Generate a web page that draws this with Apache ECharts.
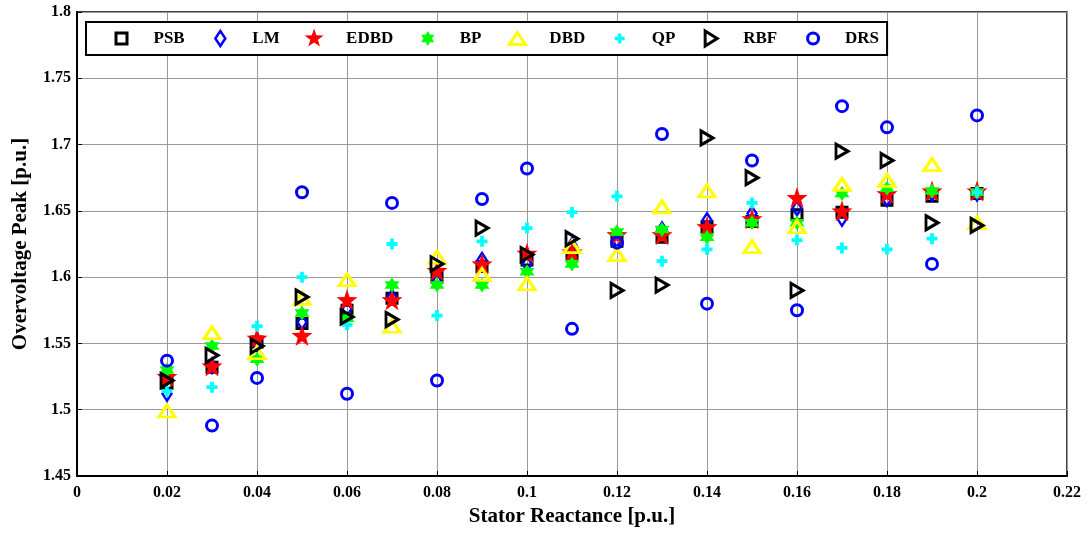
<!DOCTYPE html>
<html>
<head>
<meta charset="utf-8">
<script src="https://cdn.jsdelivr.net/npm/echarts@6/dist/echarts.min.js"></script>
<style>
  html, body { margin: 0; padding: 0; background: #fff; }
  #chart { width: 1088px; height: 533px; }
</style>
</head>
<body>
<div id="chart"></div>
<script>
// Stator reactance values (p.u.)
const reactance = [0.02, 0.03, 0.04, 0.05, 0.06, 0.07, 0.08, 0.09, 0.10, 0.11,
                   0.12, 0.13, 0.14, 0.15, 0.16, 0.17, 0.18, 0.19, 0.20];

// Overvoltage peak (p.u.) predicted by each method
const PSB  = [1.520, 1.532, 1.551, 1.565, 1.575, 1.584, 1.600, 1.608, 1.613, 1.618, 1.627, 1.630, 1.638, 1.642, 1.647, 1.649, 1.658, 1.661, 1.663];
const LM   = [1.512, 1.533, 1.550, 1.566, 1.576, 1.585, 1.597, 1.613, 1.610, 1.624, 1.628, 1.636, 1.643, 1.648, 1.652, 1.644, 1.659, 1.663, 1.663];
const EDBD = [1.525, 1.533, 1.554, 1.556, 1.583, 1.583, 1.605, 1.610, 1.618, 1.619, 1.632, 1.632, 1.638, 1.644, 1.660, 1.650, 1.663, 1.665, 1.665];
const BP   = [1.530, 1.548, 1.538, 1.573, 1.569, 1.594, 1.594, 1.594, 1.604, 1.610, 1.634, 1.636, 1.630, 1.641, 1.641, 1.663, 1.667, 1.665, 1.664];
const DBD  = [1.499, 1.558, 1.543, 1.584, 1.598, 1.563, 1.615, 1.602, 1.595, 1.623, 1.617, 1.653, 1.665, 1.623, 1.638, 1.670, 1.673, 1.685, 1.641];
const QP   = [1.514, 1.517, 1.563, 1.600, 1.564, 1.625, 1.571, 1.627, 1.637, 1.649, 1.661, 1.612, 1.621, 1.656, 1.628, 1.622, 1.621, 1.629, 1.664];
const RBF  = [1.522, 1.541, 1.548, 1.585, 1.570, 1.568, 1.610, 1.637, 1.617, 1.629, 1.590, 1.594, 1.705, 1.675, 1.590, 1.695, 1.688, 1.641, 1.639];
const DRS  = [1.537, 1.488, 1.524, 1.664, 1.512, 1.656, 1.522, 1.659, 1.682, 1.561, 1.626, 1.708, 1.580, 1.688, 1.575, 1.729, 1.713, 1.610, 1.722];

const FONT = '"Liberation Serif", "Times New Roman", serif';

// Marker shapes used on the plot
const STAR5 = 'path://M0,-10 L2.35,-3.24 L9.51,-3.09 L3.8,1.24 L5.88,8.09 L0,4 L-5.88,8.09 L-3.8,1.24 L-9.51,-3.09 L-2.35,-3.24 Z';
const STAR6 = 'path://M0,-10 L2.89,-5 L8.66,-5 L5.77,0 L8.66,5 L2.89,5 L0,10 L-2.89,5 L-8.66,5 L-5.77,0 L-8.66,-5 L-2.89,-5 Z';
const PLUS  = 'path://M-1.2,-3.5 H1.2 V-1.2 H3.5 V1.2 H1.2 V3.5 H-1.2 V1.2 H-3.5 V-1.2 H-1.2 Z';
const RTRI  = 'path://M0,0 L12,7 L0,14 Z';

// Legend icons share one 20x20 box (the two leading moves fix the box),
// so every glyph keeps its own size inside the legend row.
const BOX = 'path://M-10,-10 M10,10 ';
const LEGEND_ICONS = {
  PSB:  BOX + 'M-5.5,-5.5 H5.5 V5.5 H-5.5 Z',
  LM:   BOX + 'M0,-7.5 L5,0 L0,7.5 L-5,0 Z',
  EDBD: BOX + 'M0,-10 L2.35,-3.24 L9.51,-3.09 L3.8,1.24 L5.88,8.09 L0,4 L-5.88,8.09 L-3.8,1.24 L-9.51,-3.09 L-2.35,-3.24 Z',
  BP:   BOX + 'M0,-7.5 L2.17,-3.75 L6.5,-3.75 L4.33,0 L6.5,3.75 L2.17,3.75 L0,7.5 L-2.17,3.75 L-6.5,3.75 L-4.33,0 L-6.5,-3.75 L-2.17,-3.75 Z',
  DBD:  BOX + 'M0,-6 L8,6 L-8,6 Z',
  QP:   BOX + 'M-1.7,-5 H1.7 V-1.7 H5 V1.7 H1.7 V5 H-1.7 V1.7 H-5 V-1.7 H-1.7 Z',
  RBF:  BOX + 'M-6,-7.5 L6,0 L-6,7.5 Z',
  DRS:  BOX + 'M-5.5,0 A5.5,5.5 0 1,1 5.5,0 A5.5,5.5 0 1,1 -5.5,0 Z'
};

function pairs(values) {
  return reactance.map((x, i) => [x, values[i]]);
}

const seriesDefs = [
  { name: 'PSB',  data: PSB,  symbol: 'rect',     size: 10,       fill: 'transparent', stroke: '#000000', bw: 3 },
  { name: 'LM',   data: LM,   symbol: 'diamond',  size: [9, 14],  fill: 'transparent', stroke: '#0000ff', bw: 2.5 },
  { name: 'EDBD', data: EDBD, symbol: STAR5,      size: 21,       fill: '#ff0000',     stroke: null,      bw: 0 },
  { name: 'BP',   data: BP,   symbol: STAR6,      size: 15,       fill: '#00ff00',     stroke: null,      bw: 0 },
  { name: 'DBD',  data: DBD,  symbol: 'triangle', size: [16, 12], fill: 'transparent', stroke: '#ffff00', bw: 3 },
  { name: 'QP',   data: QP,   symbol: PLUS,       size: 11,       fill: '#00ffff',     stroke: null,      bw: 0 },
  { name: 'RBF',  data: RBF,  symbol: RTRI,       size: [12, 14], fill: 'transparent', stroke: '#000000', bw: 3 },
  { name: 'DRS',  data: DRS,  symbol: 'circle',   size: 11,       fill: 'transparent', stroke: '#0000ff', bw: 3 }
];

function styleOf(d) {
  return {
    color: d.fill,
    borderColor: d.stroke || d.fill,
    borderWidth: d.bw,
    opacity: 1
  };
}

const series = seriesDefs.map(d => ({
  name: d.name,
  type: 'scatter',
  data: pairs(d.data),
  symbol: d.symbol,
  symbolSize: d.size,
  itemStyle: styleOf(d),
  emphasis: { disabled: true },
  animation: false
}));

const chart = echarts.init(document.getElementById('chart'), null, { renderer: 'canvas' });

chart.setOption({
  backgroundColor: '#ffffff',
  animation: false,
  grid: {
    left: 77, right: 21, top: 12, bottom: 57,
    show: true, borderColor: '#000000', borderWidth: 1.5, backgroundColor: '#ffffff'
  },
  legend: {
    left: 86, top: 22,
    padding: [5, 8, 5, 24],
    itemWidth: 20, itemHeight: 20,
    itemGap: 24.4,
    borderColor: '#000000', borderWidth: 2,
    backgroundColor: '#ffffff',
    selectedMode: false,
    data: seriesDefs.map(d => ({
      name: d.name,
      icon: LEGEND_ICONS[d.name],
      itemStyle: styleOf(d)
    })),
    textStyle: {
      fontFamily: FONT, fontWeight: 'bold', fontSize: 17, color: '#000',
      padding: [0, 0, 0, 17]
    }
  },
  xAxis: {
    type: 'value',
    min: 0, max: 0.22, interval: 0.02,
    name: 'Stator Reactance [p.u.]',
    nameLocation: 'middle', nameGap: 30,
    nameTextStyle: { fontFamily: FONT, fontWeight: 'bold', fontSize: 21, color: '#000' },
    axisLine: { show: true, lineStyle: { color: '#000', width: 2 } },
    axisTick: { show: true, inside: true, length: 5, lineStyle: { color: '#000' } },
    axisLabel: { fontFamily: FONT, fontWeight: 'bold', fontSize: 16, color: '#000', margin: 9 },
    splitLine: { show: true, lineStyle: { color: '#9a9a9a', width: 1 } }
  },
  yAxis: {
    type: 'value',
    min: 1.45, max: 1.8, interval: 0.05,
    name: 'Overvoltage Peak [p.u.]',
    nameLocation: 'middle', nameGap: 46,
    nameTextStyle: { fontFamily: FONT, fontWeight: 'bold', fontSize: 21, color: '#000' },
    axisLine: { show: true, lineStyle: { color: '#000', width: 2 } },
    axisTick: { show: true, inside: true, length: 5, lineStyle: { color: '#000' } },
    axisLabel: { fontFamily: FONT, fontWeight: 'bold', fontSize: 16, color: '#000', margin: 6 },
    splitLine: { show: true, lineStyle: { color: '#9a9a9a', width: 1 } }
  },
  series: series
});
</script>
</body>
</html>
